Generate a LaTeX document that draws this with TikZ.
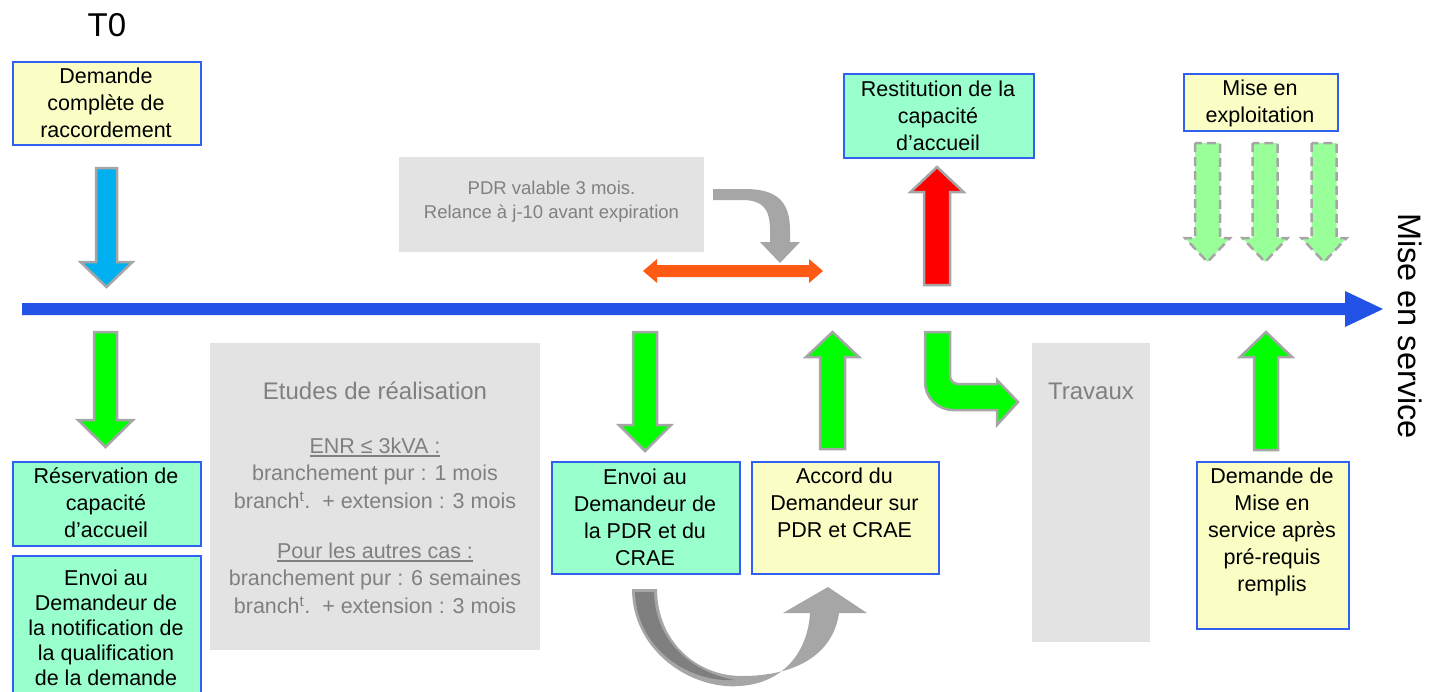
\documentclass[tikz,border=0pt]{standalone}
\usepackage{fontspec}
\setmainfont{Liberation Sans}
\definecolor{tlblue}{HTML}{2352E6}
\definecolor{skyblue}{HTML}{00B0F0}
\definecolor{vgreen}{HTML}{00FF00}
\definecolor{lgreen}{HTML}{99FF99}
\definecolor{mint}{HTML}{99FFCC}
\definecolor{lyellow}{HTML}{FAFEC4}
\definecolor{bborder}{HTML}{3060F0}
\definecolor{aborder}{HTML}{A6A6A6}
\definecolor{gbox}{HTML}{E3E3E3}
\definecolor{gtext}{HTML}{808080}
\definecolor{orng}{HTML}{FF5A14}
\definecolor{dgray}{HTML}{7F7F7F}
\newsavebox\ulbox
\newcommand{\ulin}[1]{\sbox\ulbox{#1}\rlap{\rule[-3.5pt]{\wd\ulbox}{1.4pt}}\usebox\ulbox}
% [style]{xc}{ytail}{ytip}{half shaft}{half head}{y head base}
\newcommand{\blockarrow}[7][]{\path[#1] ({#2-#5},#3) -- ({#2-#5},#7) -- ({#2-#6},#7) -- (#2,#4) -- ({#2+#6},#7) -- ({#2+#5},#7) -- ({#2+#5},#3) -- cycle;}
\tikzset{
  boxbase/.style={draw=bborder, line width=1.8pt, anchor=north west, inner sep=0pt},
  ybox/.style={boxbase, fill=lyellow},
  mbox/.style={boxbase, fill=mint},
  gbx/.style={fill=gbox, anchor=north west, inner sep=0pt},
  arr/.style={draw=aborder, line width=2.5pt},
  darr/.style={draw=aborder, line width=2.5pt, dash pattern=on 9pt off 5pt, fill=lgreen},
  btext/.style={font=\fontsize{21.5}{27}\selectfont, align=center, inner sep=0pt},
  gtxt/.style={text=gtext, align=center, inner sep=0pt, font=\fontsize{21.5}{26}\selectfont},
}
\begin{document}
\begin{tikzpicture}[x=1pt,y=-1pt]
\useasboundingbox (0,0) rectangle (1434,691);
\clip (0,0) rectangle (1434,691);

% gray background boxes
\node[gbx, minimum width=305, minimum height=95] (pdrbox) at (399,157) {};
\node[gbx, minimum width=330, minimum height=307] (etudes) at (210,343) {};
\node[gbx, minimum width=118, minimum height=299] (travaux) at (1032,343) {};

% timeline
\path[fill=tlblue] (22,303) -- (1345,303) -- (1345,291) -- (1383,309) -- (1345,327) -- (1345,315) -- (22,315) -- cycle;
\node[rotate=-90, font=\fontsize{32.5}{38}\selectfont, inner sep=0pt] (mes) at (1410,326) {Mise en service};

% T0
\node[font=\fontsize{33}{40}\selectfont, inner sep=0pt] (t0) at (107,25) {T0};

% boxes
\node[ybox, minimum width=188, minimum height=83] (b1) at (12,61) {};
\node[btext] (b1t) at (106,103) {Demande\\complète de\\raccordement};

\node[mbox, minimum width=188, minimum height=84] (b2) at (12,461) {};
\node[btext] (b2t) at (106,502.5) {Réservation de\\capacité\\d’accueil};

\node[mbox, minimum width=188, minimum height=160] (b3) at (12,555) {};
\node[btext, font=\fontsize{21.5}{25}\selectfont] (b3t) at (106,628) {Envoi au\\Demandeur de\\la notification de\\la qualification\\de la demande};

\node[mbox, minimum width=188, minimum height=112] (b4) at (551,461) {};
\node[btext] (b4t) at (645,517) {Envoi au\\Demandeur de\\la PDR et du\\CRAE};

\node[ybox, minimum width=187, minimum height=112] (b5) at (751,461) {};
\node[btext] (b5t) at (844.5,503) {Accord du\\Demandeur sur\\PDR et CRAE};

\node[mbox, minimum width=190, minimum height=84] (b6) at (843,73) {};
\node[btext] (b6t) at (938,116) {Restitution de la\\capacité\\d’accueil};

\node[ybox, minimum width=154, minimum height=57] (b7) at (1183,73) {};
\node[btext] (b7t) at (1260,103.5) {Mise en\\exploitation};

\node[ybox, minimum width=152, minimum height=167] (b8) at (1196,461) {};
\node[btext] (b8t) at (1272,531.5) {Demande de\\Mise en\\service après\\pré-requis\\remplis};

% gray box texts
\node[gtxt, font=\fontsize{18.5}{24}\selectfont] (pdrt) at (551.5,201.5) {PDR valable 3 mois.\\Relance à j-10 avant expiration};
\node[gtxt, font=\fontsize{24}{28}\selectfont] (et0) at (375,391) {Etudes de réalisation};
\node[gtxt] (et1) at (375,447) {\ulin{ENR ≤ 3kVA :}};
\node[gtxt] (et2) at (375,475) {branchement pur : 1 mois};
\node[gtxt] (et3) at (375,500) {branch\textsuperscript{t}.\ \ + extension : 3 mois};
\node[gtxt] (et4) at (375,552) {\ulin{Pour les autres cas :}};
\node[gtxt] (et5) at (375,580) {branchement pur : 6 semaines};
\node[gtxt] (et6) at (375,605) {branch\textsuperscript{t}.\ \ + extension : 3 mois};
\node[gtxt, font=\fontsize{24}{28}\selectfont] (trt) at (1091,391) {Travaux};

% block arrows
\blockarrow[arr, fill=skyblue]{106.5}{168}{287}{10.5}{26}{262}
\blockarrow[arr, fill=vgreen]{105.5}{332}{447}{11.5}{27.5}{420}
\blockarrow[arr, fill=vgreen]{645}{332}{451}{12}{26}{425}
\blockarrow[arr, fill=vgreen]{832.5}{449}{332}{12.5}{26.5}{357}
\blockarrow[arr, fill=red]{937}{285}{167}{13}{26.5}{192}
\blockarrow[arr, fill=vgreen]{1266}{450}{332}{12}{26}{357}
\blockarrow[darr]{1207.5}{143}{262}{12.5}{22.5}{238}
\blockarrow[darr]{1265}{143}{262}{12.5}{22.5}{238}
\blockarrow[darr]{1324}{143}{262}{12.5}{22.5}{238}

% bent green arrow
\path[arr, fill=vgreen] (925,332) -- (925,382) arc[start angle=180, end angle=90, radius=28]
  -- (997,410) -- (997,425) -- (1018,402) -- (997,380) -- (997,384) -- (958,384)
  arc[start angle=90, end angle=180, radius=8] -- (950,332) -- cycle;

% orange double arrow
\path[fill=orng] (643,271) -- (657,259) -- (657,265) -- (809,265) -- (809,259) -- (823,271)
  -- (809,283) -- (809,277) -- (657,277) -- (657,283) -- cycle;

% gray bent arrow (PDR)
\path[fill=aborder] (713,189) -- (745,189) .. controls (775,189) and (790,200) .. (790,230)
  -- (790,242) -- (800,242) -- (780,263) -- (760,242) -- (770,242) -- (770,230)
  .. controls (770,208) and (762,200) .. (742,200) -- (713,200) -- cycle;

% gray curved arrow (bottom)
\path[fill=aborder] (632,589) .. controls (632,650) and (690,690) .. (740,686)
  .. controls (785,683) and (808,650) .. (810,613) -- (783,613) -- (828,587) -- (867,613) -- (839,613)
  .. controls (833,655) and (795,676) .. (742,676)
  .. controls (695,676) and (657,640) .. (657,589) -- cycle;
\path[fill=dgray] (635,592) -- (654,592) .. controls (655,640) and (690,672) .. (735,680)
  .. controls (690,683) and (637,650) .. (635,592) -- cycle;
\end{tikzpicture}
\end{document}
